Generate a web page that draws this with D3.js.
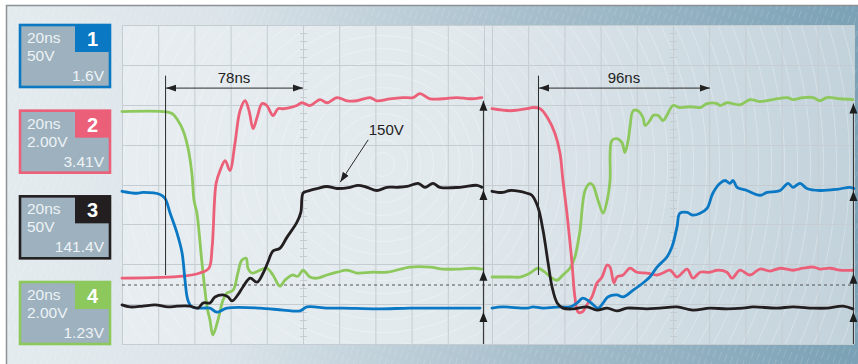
<!DOCTYPE html>
<html>
<head>
<meta charset="utf-8">
<script src="https://cdn.jsdelivr.net/npm/d3@7"></script>
<style>
  html, body { margin: 0; padding: 0; background: #fff; }
  svg { display: block; font-family: "Liberation Sans", Arial, sans-serif; }
</style>
</head>
<body>
<svg id="scope" width="858" height="364"></svg>
<script>
// channel boxes
const chNames = ['1', '2', '3', '4']
const chColors = ['#0b78c4', '#ec5f78', '#231f20', '#8dc85c']
const timeDiv = ['20ns', '20ns', '20ns', '20ns']
const voltDiv = ['50V', '2.00V', '50V', '2.00V']
const chLevel = ['1.6V', '3.41V', '141.4V', '1.23V']

// traces, [division, division] ; left capture and right capture
const blueL = [[0,3.83],[0.41,3.78],[0.58,3.8],[1.05,3.75],[1.19,3.65],[1.33,3.28],[1.52,2.78],[1.66,2.28],[1.74,1.6],[1.82,1.1],[1.93,0.93],[2.21,0.9],[2.43,0.9],[2.62,0.8],[2.9,0.9],[3.81,0.9],[4.45,0.85],[4.92,0.83],[5.11,0.93],[5.66,0.9],[6.1,0.9],[7.04,0.88],[7.96,0.9],[8.87,0.9],[9.89,0.9]]
const blueR = [[0,0.9],[0.3,0.93],[0.97,0.9],[1.13,0.93],[1.41,0.9],[1.88,0.93],[2.15,0.93],[2.35,1.03],[2.51,1.15],[2.71,1.05],[2.93,0.9],[3.07,1.03],[3.2,1.18],[3.45,1.23],[3.62,1.18],[3.9,1.35],[4.17,1.53],[4.36,1.68],[4.56,1.93],[4.83,2.18],[4.97,2.43],[5.11,2.93],[5.19,3.28],[5.39,3.3],[5.55,3.23],[5.75,3.28],[5.94,3.4],[6.1,3.78],[6.3,4.03],[6.44,4.1],[6.57,4.03],[6.66,4.1],[6.77,3.93],[7.04,3.85],[7.4,3.73],[7.6,3.8],[7.96,3.85],[8.18,4.03],[8.31,3.93],[8.51,4.03],[8.7,3.9],[9.06,3.85],[9.53,3.88],[9.89,3.93],[10,3.9]]
const redL = [[0,1.65],[1.69,1.7],[2.15,1.78],[2.4,1.9],[2.49,2.43],[2.6,4.03],[2.71,4.35],[2.85,4.6],[2.98,4.35],[3.12,5.03],[3.26,5.85],[3.4,6.1],[3.51,5.85],[3.62,5.4],[3.73,5.68],[3.87,6.03],[4.0,5.98],[4.17,5.73],[4.31,5.9],[4.45,5.9],[4.64,5.93],[4.83,5.98],[4.97,6.05],[5.19,5.98],[5.47,6.13],[5.66,6.05],[5.94,6.18],[6.22,6.1],[6.49,6.1],[6.85,6.18],[7.04,6.1],[7.4,6.15],[7.76,6.18],[8.04,6.18],[8.23,6.28],[8.51,6.15],[8.87,6.15],[9.25,6.18],[9.61,6.15],[9.94,6.18]]
const redR = [[0,5.9],[0.5,5.85],[0.97,5.9],[1.1,5.93],[1.33,5.9],[1.55,5.65],[1.74,5.28],[1.88,4.78],[1.96,4.1],[2.07,3.28],[2.21,2.03],[2.29,1.18],[2.38,0.8],[2.49,0.8],[2.62,0.98],[2.76,1.18],[2.9,1.53],[3.04,1.68],[3.18,1.98],[3.26,1.93],[3.37,1.53],[3.45,1.68],[3.62,1.73],[3.81,1.9],[4.0,1.8],[4.28,1.78],[4.56,1.73],[4.72,1.78],[4.92,1.85],[5.11,1.68],[5.39,1.88],[5.55,1.65],[5.75,1.8],[6.02,1.8],[6.22,1.85],[6.49,1.8],[6.63,1.65],[6.85,1.85],[7.13,1.73],[7.4,1.88],[7.68,1.83],[7.96,1.9],[8.31,1.85],[8.59,1.9],[8.87,1.93],[9.06,1.88],[9.34,1.9],[9.61,1.85],[9.97,1.85]]
const blackL = [[0,0.98],[0.22,0.93],[0.58,0.95],[0.91,0.98],[1.27,0.93],[1.52,0.95],[1.88,0.95],[2.1,0.9],[2.24,1.03],[2.43,1.03],[2.57,1.18],[2.79,1.23],[2.93,1.18],[3.04,1.08],[3.2,1.23],[3.34,1.43],[3.54,1.65],[3.73,1.55],[3.9,1.78],[4.03,2.05],[4.17,2.33],[4.36,2.4],[4.56,2.68],[4.83,3.05],[4.94,3.3],[5.0,3.78],[5.11,3.83],[5.39,3.9],[5.66,3.95],[5.94,3.9],[6.3,3.93],[6.52,3.98],[6.77,3.93],[7.04,3.85],[7.32,3.93],[7.6,3.93],[7.87,3.95],[8.18,4.03],[8.37,3.93],[8.59,4.03],[8.78,3.93],[9.34,3.93],[9.81,3.98],[9.94,3.93]]
const blackR = [[0,3.83],[0.3,3.8],[0.5,3.85],[0.97,3.78],[1.1,3.73],[1.27,3.43],[1.41,2.85],[1.55,2.03],[1.66,1.43],[1.8,1.03],[1.96,0.9],[2.24,0.88],[2.62,0.93],[2.9,0.85],[3.18,0.9],[3.45,0.83],[3.73,0.9],[4.28,0.88],[4.64,0.9],[5.11,0.93],[5.55,0.85],[6.02,0.9],[6.49,0.88],[6.93,0.9],[7.21,0.93],[7.87,0.9],[8.31,0.93],[8.87,0.9],[9.25,0.9],[9.7,0.95],[9.97,0.88]]
const greenL = [[0,5.83],[1.13,5.83],[1.38,5.78],[1.55,5.6],[1.69,5.35],[1.82,4.93],[1.93,4.28],[1.99,3.6],[2.07,3.28],[2.21,2.03],[2.35,0.93],[2.43,0.6],[2.51,0.23],[2.65,0.6],[2.79,1.1],[2.9,1.28],[3.07,1.35],[3.2,1.78],[3.31,2.1],[3.43,2.15],[3.48,1.9],[3.59,1.78],[3.81,1.85],[4.0,1.9],[4.17,1.73],[4.36,1.45],[4.5,1.6],[4.7,1.73],[4.86,1.7],[5.0,1.85],[5.19,1.68],[5.39,1.65],[5.66,1.73],[5.94,1.8],[6.22,1.85],[6.49,1.78],[6.93,1.8],[7.32,1.8],[7.96,1.93],[8.51,1.93],[8.87,1.88],[9.34,1.88],[9.7,1.9],[9.94,1.88]]
const greenR = [[0,1.68],[0.5,1.68],[0.77,1.68],[1.05,1.78],[1.27,1.9],[1.46,1.8],[1.66,1.65],[1.8,1.6],[1.96,1.73],[2.15,1.9],[2.29,2.18],[2.43,2.85],[2.57,3.85],[2.71,4.03],[2.79,3.98],[2.93,3.6],[3.07,3.28],[3.18,3.6],[3.26,4.1],[3.31,5.1],[3.45,5.15],[3.59,5.05],[3.67,4.8],[3.76,5.1],[3.81,5.43],[3.9,5.85],[4.03,5.85],[4.17,5.68],[4.23,5.48],[4.36,5.6],[4.45,5.73],[4.59,5.73],[4.72,5.6],[4.83,5.73],[5.0,5.98],[5.19,5.93],[5.47,5.95],[5.75,5.93],[5.94,6.03],[6.22,6.03],[6.3,5.98],[6.49,6.05],[6.85,6.0],[7.13,6.13],[7.4,6.08],[7.76,6.13],[8.15,6.18],[8.31,6.13],[8.59,6.18],[8.87,6.18],[9.06,6.1],[9.25,6.18],[9.61,6.15],[9.97,6.13]]

// annotations
const cursorL = [1.19, 5.0]   // 78ns
const cursorR = [1.27, 6.02]  // 96ns
const cursorLabels = ['78ns', '96ns']
const triggerLevel = 1.48
const tipsL = [6.1, 3.86, 1.84, 0.8]
const tipsR = [6.03, 3.84, 1.76, 0.8]
const peakLabel = '150V'

const svg = d3.select('#scope')
const W = 858, H = 364
const plot = { left: 122, right: 854, top: 25, bottom: 344, gap: 8 }
const panelW = (plot.right - plot.left - plot.gap) / 2

const xL = d3.scaleLinear().domain([0, 10]).range([plot.left, plot.left + panelW])
const xR = d3.scaleLinear().domain([0, 10]).range([plot.right - panelW, plot.right])
const y = d3.scaleLinear().domain([0, 8]).range([plot.bottom, plot.top])

const defs = svg.append('defs')
const frameGrad = defs.append('linearGradient').attr('id', 'frameGrad')
frameGrad.append('stop').attr('offset', '0%').attr('stop-color', '#e4ebef')
frameGrad.append('stop').attr('offset', '25%').attr('stop-color', '#dbe4e9')
frameGrad.append('stop').attr('offset', '60%').attr('stop-color', '#a9c0cd')
frameGrad.append('stop').attr('offset', '100%').attr('stop-color', '#7aa1b5')
const plotGrad = defs.append('linearGradient').attr('id', 'plotGrad')
plotGrad.append('stop').attr('offset', '0%').attr('stop-color', '#e7edf0')
plotGrad.append('stop').attr('offset', '45%').attr('stop-color', '#e2e9ed')
plotGrad.append('stop').attr('offset', '100%').attr('stop-color', '#c2d2db')
const hatch = defs.append('pattern').attr('id', 'hatch').attr('patternUnits', 'userSpaceOnUse')
  .attr('width', 6).attr('height', 12).attr('patternTransform', 'rotate(20)')
hatch.append('line').attr('x1', 0).attr('y1', 0).attr('x2', 0).attr('y2', 8)
  .attr('stroke', '#fff').attr('stroke-width', 0.8).attr('opacity', 0.35)
defs.append('clipPath').attr('id', 'plotClip').append('rect')
  .attr('x', plot.left).attr('y', plot.top).attr('width', plot.right - plot.left).attr('height', plot.bottom - plot.top)
defs.append('marker').attr('id', 'arr').attr('viewBox', '0 -4 10 8').attr('refX', 10).attr('refY', 0)
  .attr('markerWidth', 10).attr('markerHeight', 8).attr('markerUnits', 'userSpaceOnUse')
  .attr('orient', 'auto-start-reverse')
  .append('path').attr('d', 'M0,-3.5L10,0L0,3.5Z').attr('fill', '#222')

// frame
svg.append('rect').attr('x', 6).attr('y', 5).attr('width', W - 6).attr('height', H - 5)
  .attr('fill', 'url(#frameGrad)')
svg.append('rect').attr('x', 6).attr('y', 5).attr('width', W - 6).attr('height', H - 5)
  .attr('fill', 'url(#hatch)')
svg.append('path').attr('d', `M6.5,${H}V5.5H${W}`).attr('fill', 'none').attr('stroke', '#8c9195').attr('stroke-width', 1.5)

// plot area
svg.append('rect').attr('x', plot.left).attr('y', plot.top)
  .attr('width', plot.right - plot.left).attr('height', plot.bottom - plot.top).attr('fill', 'url(#plotGrad)')
const rings = svg.append('g').attr('clip-path', 'url(#plotClip)')
rings.selectAll('circle').data(d3.range(12, 520, 13)).join('circle')
  .attr('cx', xL(7.2)).attr('cy', y(4.5)).attr('r', d => d)
  .attr('fill', 'none').attr('stroke', '#fff').attr('stroke-width', 0.8).attr('opacity', 0.35)

const grid = svg.append('g').attr('stroke', '#c5cdd2').attr('stroke-width', 1).attr('fill', 'none')
;[xL, xR].forEach(x => {
  grid.selectAll(null).data(d3.range(0, 11)).join('line')
    .attr('x1', d => x(d) + 0.5).attr('x2', d => x(d) + 0.5)
    .attr('y1', plot.top).attr('y2', plot.bottom)
  grid.selectAll(null).data(d3.range(0.2, 8, 0.2)).join('line')
    .attr('x1', x(5) - 3).attr('x2', x(5) + 4)
    .attr('y1', d => Math.round(y(d)) + 0.5).attr('y2', d => Math.round(y(d)) + 0.5)
})
grid.selectAll(null).data(d3.range(0, 9)).join('line')
  .attr('x1', plot.left).attr('x2', plot.right)
  .attr('y1', d => Math.round(y(d)) + 0.5).attr('y2', d => Math.round(y(d)) + 0.5)

// trigger level
svg.append('line').attr('x1', plot.left).attr('x2', plot.right)
  .attr('y1', y(triggerLevel)).attr('y2', y(triggerLevel))
  .attr('stroke', '#555').attr('stroke-width', 1.2).attr('stroke-dasharray', '3,3')

// traces
const traces = [
  { x: xL, data: greenL, color: chColors[3] },
  { x: xR, data: greenR, color: chColors[3] },
  { x: xL, data: redL, color: chColors[1] },
  { x: xR, data: redR, color: chColors[1] },
  { x: xL, data: blueL, color: chColors[0] },
  { x: xR, data: blueR, color: chColors[0] },
  { x: xL, data: blackL, color: chColors[2] },
  { x: xR, data: blackR, color: chColors[2] }
]
const traceGroup = svg.append('g').attr('fill', 'none').attr('stroke-width', 2.8)
  .attr('stroke-linejoin', 'round').attr('stroke-linecap', 'round')
traces.forEach(tr => {
  const line = d3.line().x(d => tr.x(d[0])).y(d => y(d[1])).curve(d3.curveCatmullRom.alpha(0.5))
  traceGroup.append('path').attr('d', line(tr.data)).attr('stroke', tr.color)
})

// cursors + measurements
const ann = svg.append('g').attr('stroke', '#2a2a2a').attr('stroke-width', 1).attr('fill', 'none')
;[[xL, cursorL, 0], [xR, cursorR, 1]].forEach(([x, c, i]) => {
  ann.append('line').attr('x1', x(c[0]) + 0.5).attr('x2', x(c[0]) + 0.5)
    .attr('y1', y(6.73)).attr('y2', y(1.73))
  ann.append('line').attr('x1', x(c[0]) + 1).attr('x2', x(c[1]))
    .attr('y1', y(6.43) + 0.5).attr('y2', y(6.43) + 0.5)
    .attr('marker-start', 'url(#arr)').attr('marker-end', 'url(#arr)')
  svg.append('text').attr('x', x((c[0] + c[1]) / 2)).attr('y', y(6.43) - 5)
    .attr('text-anchor', 'middle').attr('font-size', 15).attr('fill', '#222').text(cursorLabels[i])
})
ann.append('line').attr('x1', xL(6.8)).attr('y1', y(5.12)).attr('x2', xL(6.03)).attr('y2', y(4.06))
  .attr('marker-end', 'url(#arr)')
svg.append('text').attr('x', xL(7.3)).attr('y', y(5.23)).attr('text-anchor', 'middle')
  .attr('font-size', 15).attr('fill', '#222').text(peakLabel)

// level arrows at the panel ends
;[[xL, tipsL], [xR, tipsR]].forEach(([x, tips]) => {
  const ax = x(9.97)
  ann.append('line').attr('x1', ax + 0.5).attr('x2', ax + 0.5).attr('y1', y(0)).attr('y2', y(d3.max(tips)))
  svg.append('g').selectAll('path').data(tips).join('path')
    .attr('d', d => `M${ax + 0.5},${y(d)}l4,10h-8z`).attr('fill', '#1d1d1d')
})

// channel boxes
const boxTop = d3.scaleLinear().domain([0, 3]).range([25, 282])
const box = svg.selectAll('g.ch').data(chNames).join('g').attr('class', 'ch')
  .attr('transform', (d, i) => `translate(20,${boxTop(i)})`)
box.append('rect').attr('x', 0).attr('y', 0).attr('width', 90).attr('height', 62)
  .attr('fill', '#9db1be').attr('stroke', (d, i) => chColors[i]).attr('stroke-width', 2.6)
box.append('rect').attr('x', 55).attr('y', 0).attr('width', 35).attr('height', 27)
  .attr('fill', (d, i) => chColors[i])
box.append('text').attr('x', 72.5).attr('y', 21).attr('text-anchor', 'middle')
  .attr('font-size', 20).attr('font-weight', 'bold').attr('fill', '#fff').text(d => d)
const boxText = box.append('g').attr('fill', '#eef3f6').attr('font-size', 15.5)
boxText.append('text').attr('x', 7).attr('y', 18).text((d, i) => timeDiv[i])
boxText.append('text').attr('x', 7).attr('y', 36).text((d, i) => voltDiv[i])
boxText.append('text').attr('x', 84).attr('y', 56).attr('text-anchor', 'end').text((d, i) => chLevel[i])
</script>
</body>
</html>
